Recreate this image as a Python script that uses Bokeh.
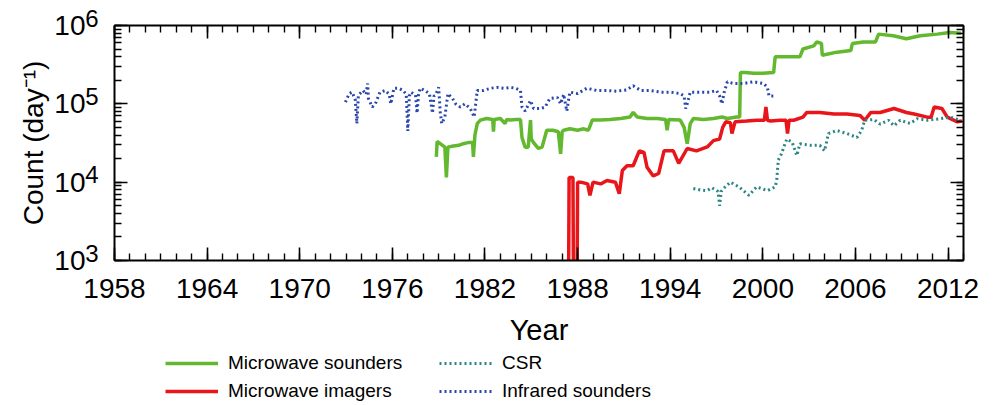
from bokeh.plotting import figure
from bokeh.layouts import column
from bokeh.models import (LogAxis, LinearAxis, FixedTicker, Range1d, Legend, LegendItem,
                          CustomJSTickFormatter, LogTicker)
from bokeh.embed import file_html
from bokeh.resources import INLINE

FONT = "Liberation Sans"

# ---------------- data ----------------
x_ticks = [1958, 1964, 1970, 1976, 1982, 1988, 1994, 2000, 2006, 2012]
y_base = "10"

mws_years = [1978.85, 1978.9, 1979.1, 1979.4, 1979.5, 1979.6, 1979.95, 1980.3, 1980.6, 1980.9,
             1981.2, 1981.25, 1981.35, 1981.5, 1981.7, 1982.1, 1982.5, 1982.55, 1982.6, 1983.0,
             1983.3, 1983.4, 1983.65, 1984.0, 1984.3, 1984.4, 1984.6, 1984.8, 1984.95, 1985.0,
             1985.15, 1985.45, 1985.7, 1986.0, 1986.4, 1986.75, 1986.9, 1987.0, 1987.1, 1987.5,
             1988.0, 1988.4, 1988.7, 1988.95, 1989.5, 1990.1, 1990.8, 1991.4, 1991.6, 1991.85,
             1992.5, 1993.15, 1993.7, 1993.8, 1993.9, 1994.65, 1994.9, 1995.1, 1995.3, 1995.5,
             1996.15, 1996.8, 1997.35, 1997.7, 1998.3, 1998.5, 1998.55, 1998.85, 1999.4, 2000.0,
             2000.7, 2000.8, 2001.6, 2002.4, 2002.6, 2003.3, 2003.5, 2003.8, 2003.85, 2004.8,
             2005.7, 2005.8, 2006.5, 2007.3, 2007.5, 2008.45, 2009.3, 2010.2, 2011.3, 2012.1,
             2012.85]
mws_counts = [21000, 33000, 31000, 28000, 11500, 28000, 29000, 29500, 31000, 32000,
              32000, 21000, 40000, 56000, 62000, 65000, 63000, 44000, 63000, 65000,
              56000, 63000, 62000, 63000, 63000, 37000, 28000, 28000, 62000, 35500,
              32000, 27000, 28000, 46000, 46000, 44000, 23000, 44000, 46000, 48000,
              46000, 48000, 46000, 62000, 62000, 63000, 65000, 68000, 78000, 68000,
              65000, 65000, 63000, 46000, 63000, 62000, 50000, 31000, 56000, 65000,
              63000, 65000, 68000, 65000, 68000, 68000, 251000, 251000, 245000, 245000,
              251000, 398000, 398000, 398000, 501000, 550000, 617000, 589000, 417000, 457000,
              479000, 589000, 617000, 617000, 776000, 741000, 676000, 741000, 776000, 813000,
              794000]

mwi_years = [1987.4, 1987.45, 1987.7, 1987.75, 1987.95, 1988.0, 1988.2, 1988.65, 1988.8, 1989.0,
             1989.5, 1989.9, 1990.45, 1990.7, 1990.9, 1991.2, 1991.6, 1992.0, 1992.3, 1992.5,
             1992.9, 1993.25, 1993.6, 1994.2, 1994.55, 1995.1, 1995.7, 1996.4, 1996.8, 1997.2,
             1997.4, 1997.6, 1997.9, 1998.0, 1998.2, 1998.95, 1999.6, 2000.1, 2000.2, 2000.3,
             2000.5, 2001.1, 2001.5, 2001.6, 2001.7, 2002.0, 2002.6, 2002.85, 2003.7, 2004.6,
             2005.45, 2006.3, 2006.6, 2007.0, 2007.6, 2008.5, 2009.3, 2009.8, 2010.65, 2010.9,
             2011.1, 2011.6, 2011.95, 2012.6, 2012.9]
mwi_counts = [100, 11500, 11500, 100, 100, 10000, 10000, 9500, 6800, 10000,
              9500, 10500, 10000, 7100, 14100, 16200, 16200, 25100, 24000, 15500,
              12000, 12900, 25100, 25100, 17400, 26900, 25100, 28200, 33900, 35500,
              50100, 58900, 57500, 41700, 58900, 60300, 61700, 61700, 91200, 61700,
              60300, 61700, 61700, 41700, 61700, 61700, 67600, 77600, 77600, 74100,
              74100, 70800, 61700, 77600, 77600, 87100, 77600, 74100, 67600, 67600,
              91200, 87100, 67600, 58900, 60300]

csr_years = [1995.5, 1996.0, 1996.4, 1996.7, 1997.1, 1997.2, 1997.3, 1997.45, 1997.9, 1998.45,
             1999.1, 1999.6, 2000.3, 2000.8, 2000.9, 2001.0, 2001.2, 2001.55, 2001.9, 2002.2,
             2002.4, 2003.1, 2003.7, 2004.0, 2004.25, 2004.8, 2005.45, 2006.1, 2006.4, 2006.6,
             2007.2, 2007.6, 2008.15, 2008.5, 2008.9, 2009.55, 2010.0, 2010.65, 2011.5, 2012.15,
             2012.8]
csr_counts = [8300, 7900, 7800, 8500, 7600, 5000, 7600, 8300, 10000, 8700,
              6800, 8700, 7800, 8700, 10500, 19100, 22900, 35500, 32400, 21900,
              30900, 29500, 29500, 25100, 41700, 45700, 41700, 37200, 45700, 61700,
              63100, 55000, 61700, 52500, 61700, 56200, 64600, 61700, 64600, 67600,
              61700]

irs_years = [1972.96, 1973.2, 1973.4, 1973.6, 1973.7, 1973.8, 1974.1, 1974.3, 1974.4, 1974.45,
             1974.7, 1974.9, 1975.2, 1975.55, 1975.8, 1975.9, 1976.1, 1976.4, 1976.7, 1976.9,
             1977.0, 1977.1, 1977.2, 1977.5, 1977.6, 1977.7, 1977.8, 1978.1, 1978.4, 1978.6,
             1978.7, 1978.8, 1979.0, 1979.1, 1979.2, 1979.4, 1979.6, 1979.9, 1980.1, 1980.4,
             1980.7, 1981.05, 1981.3, 1981.5, 1981.9, 1982.35, 1982.8, 1983.2, 1983.65, 1984.0,
             1984.3, 1984.4, 1984.6, 1984.95, 1985.15, 1985.6, 1985.9, 1986.2, 1986.7, 1986.9,
             1987.1, 1987.3, 1987.5, 1988.0, 1988.6, 1989.25, 1989.9, 1990.55, 1991.2, 1991.6,
             1992.1, 1992.7, 1993.4, 1994.0, 1994.65, 1994.9, 1995.0, 1995.1, 1995.3, 1995.95,
             1996.6, 1997.0, 1997.2, 1997.35, 1997.5, 1997.7, 1998.1, 1998.75, 1999.4, 2000.05,
             2000.3, 2000.4, 2000.8]
irs_counts = [105000, 135000, 141000, 112000, 56000, 129000, 148000, 132000, 182000, 117000,
              91000, 100000, 141000, 148000, 132000, 100000, 158000, 158000, 148000, 132000,
              45000, 126000, 141000, 129000, 76000, 132000, 158000, 148000, 135000, 76000,
              126000, 129000, 162000, 79000, 56000, 68000, 135000, 117000, 100000, 91000,
              100000, 87000, 68000, 148000, 148000, 158000, 162000, 158000, 162000, 158000,
              148000, 91000, 81000, 110000, 87000, 87000, 91000, 117000, 120000, 100000,
              132000, 81000, 141000, 135000, 158000, 148000, 148000, 145000, 151000, 170000,
              148000, 148000, 141000, 141000, 135000, 126000, 87000, 100000, 141000, 141000,
              141000, 148000, 126000, 100000, 141000, 191000, 182000, 182000, 191000, 182000,
              162000, 126000, 126000]

series_labels = ["Microwave sounders", "Microwave imagers", "CSR", "Infrared sounders"]
series_colors = ["#62b92f", "#e8161b", "#2a8585", "#2a46ad"]
series_dash = ["solid", "solid", "2 3", "2 3"]
series_width = [3.5, 3.5, 3, 3]
series = [(mws_years, mws_counts), (mwi_years, mwi_counts), (csr_years, csr_counts),
          (irs_years, irs_counts)]

# ---------------- main figure ----------------
p = figure(width=1000, height=360, x_range=Range1d(1958, 2013), y_range=Range1d(1e3, 1e6),
           y_axis_type="log", output_backend="svg", toolbar_location=None,
           min_border_left=114, min_border_right=37, min_border_top=25, min_border_bottom=100,
           background_fill_color="white", border_fill_color="white")
p.grid.visible = False
p.outline_line_color = None

xticker = FixedTicker(ticks=x_ticks, minor_ticks=list(range(1958, 2014)))


def style_axis(ax):
    ax.axis_line_color = "black"
    ax.axis_line_width = 2
    ax.major_tick_line_color = "black"
    ax.major_tick_line_width = 1.6
    ax.minor_tick_line_color = "black"
    ax.minor_tick_line_width = 1.4
    ax.major_tick_in = 13
    ax.major_tick_out = 0
    ax.minor_tick_in = 7
    ax.minor_tick_out = 0
    ax.major_label_text_font = FONT
    ax.major_label_text_color = "black"
    ax.axis_label_text_font = FONT
    ax.axis_label_text_font_style = "normal"
    ax.axis_label_text_color = "black"


xa = p.xaxis[0]
xa.ticker = xticker
style_axis(xa)
xa.major_label_text_font_size = "28px"
xa.major_label_standoff = 18
xa.axis_label = "Year"
xa.axis_label_text_font_size = "29px"
xa.axis_label_standoff = 13

# inner left axis: line, ticks and the (raised) exponents of the tick labels
ya = p.yaxis[0]
ya.ticker = LogTicker(num_minor_ticks=10)
style_axis(ya)
ya.formatter = CustomJSTickFormatter(
    code="return String(Math.round(Math.log10(tick))) + '\\n '")
ya.major_label_text_font_size = "24px"
ya.major_label_text_line_height = 0.55
ya.major_label_standoff = 16

# outer left axis: the "10" bases and the axis title
ybase = LogAxis(ticker=LogTicker(num_minor_ticks=10),
                formatter=CustomJSTickFormatter(code="return '%s'" % y_base))
style_axis(ybase)
ybase.axis_line_color = None
ybase.major_tick_line_color = None
ybase.minor_tick_line_color = None
ybase.major_label_text_font_size = "28px"
ybase.major_label_standoff = -3
ybase.axis_label = "Count (day\u207b\u00b9)"
ybase.axis_label_text_font_size = "28px"
ybase.axis_label_standoff = 2
p.add_layout(ybase, "left")

empty = CustomJSTickFormatter(code="return ''")
top = LinearAxis(ticker=xticker, formatter=empty, major_label_standoff=0,
                 major_label_text_font_size="0px")
style_axis(top)
p.add_layout(top, "above")
right = LogAxis(ticker=LogTicker(num_minor_ticks=10), formatter=empty, major_label_standoff=0,
                major_label_text_font_size="0px")
style_axis(right)
p.add_layout(right, "right")

for (xs, ys), c, d, w in zip(series, series_colors, series_dash, series_width):
    p.line(xs, ys, line_color=c, line_width=w, line_dash=d)

# ---------------- legend strip (below the chart, slightly overlapping its empty margin) ----------------
# the same series drawn in a strip whose ranges hide them, so that the legend has glyphs
q = figure(width=1000, height=56, x_range=Range1d(0, 1), y_range=Range1d(0, 1),
           output_backend="svg", toolbar_location=None, x_axis_location=None,
           y_axis_location=None, min_border=0, background_fill_alpha=0,
           border_fill_alpha=0, margin=(-11, 0, 0, 0))
q.grid.visible = False
q.outline_line_color = None
items = []
for (xs, ys), lab, c, d, w in zip(series, series_labels, series_colors, series_dash, series_width):
    r = q.line(xs, ys, line_color=c, line_width=w, line_dash=d)
    items.append(LegendItem(label=lab, renderers=[r]))

legend = Legend(items=items, location=(51, 0), ncols=2, orientation="vertical",
                padding=0, margin=0, spacing=0, border_line_alpha=0, background_fill_alpha=0,
                glyph_width=53, glyph_height=28, label_height=28, label_width=211,
                label_standoff=10, label_text_font=FONT, label_text_font_size="19px",
                label_text_color="black")
q.add_layout(legend, "center")

layout = column(p, q, spacing=0)
open("out.html", "w").write(file_html(layout, INLINE))
